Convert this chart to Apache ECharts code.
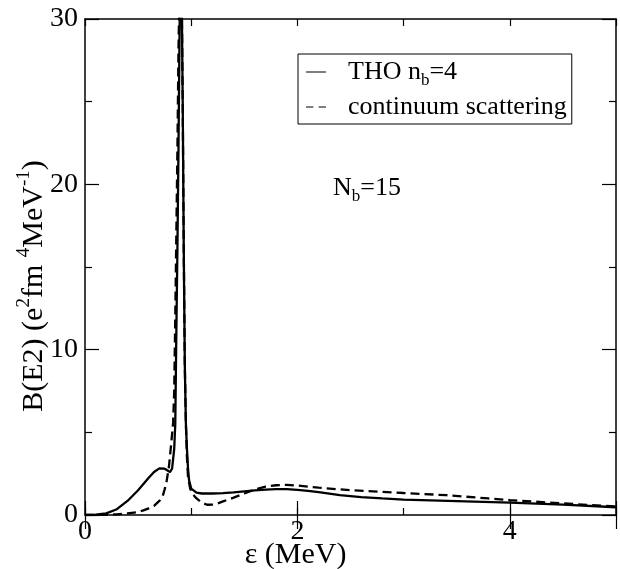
<!DOCTYPE html>
<html>
<head>
<meta charset="utf-8">
<script src="https://cdn.jsdelivr.net/npm/echarts@6/dist/echarts.min.js"></script>
<style>
html,body{margin:0;padding:0;background:#fff;}
#chart{width:620px;height:569px;}
</style>
</head>
<body>
<div id="chart"></div>
<script>
// THO n_b=4 (solid)
const xSolid = [0, 0.1, 0.2, 0.3, 0.4, 0.5, 0.6, 0.65, 0.7, 0.75, 0.8, 0.82, 0.84, 0.85, 0.86, 0.87, 0.88, 0.89, 0.9, 0.91, 0.92, 0.93, 0.94, 0.95, 0.96, 0.97, 0.98, 1.0, 1.05, 1.1, 1.2, 1.3, 1.4, 1.5, 1.6, 1.7, 1.8, 1.9, 2.0, 2.1, 2.2, 2.4, 2.6, 2.8, 3.0, 3.5, 4.0, 4.5, 5.0];
const ySolid = [0, 0.02, 0.1, 0.35, 0.85, 1.5, 2.25, 2.6, 2.82, 2.8, 2.6, 2.8, 4.0, 5.5, 11, 16, 22, 29, 34, 32, 25, 16, 9, 5.5, 4, 2.8, 2.1, 1.6, 1.35, 1.3, 1.3, 1.32, 1.37, 1.43, 1.49, 1.54, 1.57, 1.56, 1.52, 1.46, 1.38, 1.2, 1.08, 1.0, 0.93, 0.84, 0.75, 0.63, 0.47];
// continuum scattering (dashed)
const xDash = [0, 0.1, 0.2, 0.3, 0.4, 0.5, 0.55, 0.6, 0.65, 0.7, 0.73, 0.75, 0.77, 0.79, 0.81, 0.83, 0.84, 0.85, 0.86, 0.87, 0.88, 0.89, 0.9, 0.91, 0.92, 0.93, 0.94, 0.95, 0.96, 0.97, 0.99, 1.01, 1.05, 1.1, 1.15, 1.2, 1.25, 1.3, 1.4, 1.5, 1.6, 1.7, 1.8, 1.9, 2.0, 2.2, 2.5, 2.8, 3.0, 3.4, 3.8, 4.0, 4.5, 5.0];
const yDash = [0, 0, 0.01, 0.04, 0.1, 0.18, 0.28, 0.4, 0.55, 0.85, 1.1, 1.55, 2.1, 2.9, 4.2, 5.6, 7.5, 12, 17, 22, 28, 32, 35, 32, 25, 16, 9, 5.5, 3.5, 2.3, 1.6, 1.3, 1.0, 0.75, 0.62, 0.63, 0.7, 0.82, 1.05, 1.3, 1.55, 1.72, 1.8, 1.82, 1.78, 1.65, 1.5, 1.4, 1.33, 1.2, 1.0, 0.9, 0.7, 0.52];
const xTicks = [0, 2, 4];
const yTicks = [0, 10, 20, 30];

const FONT = 'Liberation Serif';
const pairs = (xs, ys) => xs.map((x, i) => [x, ys[i]]);
const chart = echarts.init(document.getElementById('chart'));

const baseX = {
  type: 'value', min: 0, max: 5, splitLine: {show: false},
  axisLine: {show: true, onZero: false, lineStyle: {color: '#000', width: 1.5}}
};
const option = {
  backgroundColor: '#fff',
  animation: false,
  grid: {left: 85, top: 19, right: 4, bottom: 54, outerBoundsMode: 'none', containLabel: false},
  title: {
    text: 'N{sub|b}=15', left: 328, top: 166,
    textStyle: {fontFamily: FONT, fontSize: 26, fontWeight: 'normal', color: '#000', lineHeight: 34,
      rich: {sub: {fontFamily: FONT, fontSize: 17, verticalAlign: 'bottom', lineHeight: 17, color: '#000'}}}
  },
  legend: {
    left: 298, top: 54, orient: 'vertical',
    borderColor: '#000', borderWidth: 1, borderRadius: 0,
    padding: [1, 5, 0, 8], itemGap: 1,
    itemWidth: 20, itemHeight: 2.4,
    data: [
      {name: 'tho', icon: 'path://M0,0H20V1H0Z'},
      {name: 'cont', icon: 'path://M0,0H7V1H0Z M12,0H19V1H12Z'}
    ],
    formatter: n => n === 'tho' ? 'THO n{sub|b}=4' : 'continuum scattering',
    textStyle: {fontFamily: FONT, fontSize: 26, color: '#000', lineHeight: 34, padding: [0, 0, 0, 17],
      rich: {sub: {fontFamily: FONT, fontSize: 17, verticalAlign: 'bottom', lineHeight: 17, color: '#000'}}}
  },
  xAxis: [
    Object.assign({}, baseX, {
      position: 'bottom', interval: 1,
      axisTick: {show: true, inside: true, length: 7, lineStyle: {color: '#000', width: 1.2}},
      axisLabel: {fontFamily: FONT, fontSize: 28, color: '#000', margin: 3,
        formatter: v => xTicks.includes(v) ? String(v) : ''},
      name: 'ε (MeV)', nameLocation: 'middle', nameGap: 25, nameMoveOverlap: false,
      nameTextStyle: {fontFamily: FONT, fontSize: 30, color: '#000', lineHeight: 30, padding: [0, 110, 0, 0]}
    }),
    Object.assign({}, baseX, {
      position: 'bottom', interval: 2,
      axisLine: {show: false},
      axisTick: {show: true, inside: true, length: 14, lineStyle: {color: '#000', width: 1.2}},
      axisLabel: {show: false}
    }),
    Object.assign({}, baseX, {
      position: 'top', interval: 1,
      axisTick: {show: true, inside: true, length: 7, lineStyle: {color: '#000', width: 1.2}},
      axisLabel: {show: false}
    }),
    Object.assign({}, baseX, {
      position: 'top', interval: 2,
      axisLine: {show: false},
      axisTick: {show: true, inside: true, length: 14, lineStyle: {color: '#000', width: 1.2}},
      axisLabel: {show: false}
    })
  ],
  yAxis: [
    {
      type: 'value', min: 0, max: 30, interval: 10, position: 'left',
      splitLine: {show: false},
      axisLine: {show: true, onZero: false, lineStyle: {color: '#000', width: 1.5}},
      axisTick: {show: true, inside: true, length: 14, lineStyle: {color: '#000', width: 1.2}},
      minorTick: {show: true, splitNumber: 2, length: 7, lineStyle: {color: '#000', width: 1.2}},
      axisLabel: {fontFamily: FONT, fontSize: 28, color: '#000', margin: 7,
        formatter: v => yTicks.includes(v) ? String(v) : ''},
      name: 'B(E2) (e{sup|2}fm {sup|4}MeV{sup|-1})', nameLocation: 'middle', nameGap: 32, nameRotate: 90,
      nameMoveOverlap: false,
      nameTextStyle: {fontFamily: FONT, fontSize: 30, color: '#000', lineHeight: 38, padding: [0, 38, 0, 0],
        rich: {sup: {fontFamily: FONT, fontSize: 19, verticalAlign: 'top', lineHeight: 18, color: '#000'}}}
    },
    {
      type: 'value', min: 0, max: 30, interval: 10, position: 'right',
      splitLine: {show: false},
      axisLine: {show: true, onZero: false, lineStyle: {color: '#000', width: 1.5}},
      axisTick: {show: true, inside: true, length: 14, lineStyle: {color: '#000', width: 1.2}},
      minorTick: {show: true, splitNumber: 2, length: 7, lineStyle: {color: '#000', width: 1.2}},
      axisLabel: {show: false}
    }
  ],
  series: [
    {
      name: 'tho', type: 'line', xAxisIndex: 0, yAxisIndex: 0,
      data: pairs(xSolid, ySolid), showSymbol: false, symbol: 'none',
      lineStyle: {color: '#000', width: 2.3, type: 'solid'}, itemStyle: {color: '#000'}
    },
    {
      name: 'cont', type: 'line', xAxisIndex: 0, yAxisIndex: 0,
      data: pairs(xDash, yDash), showSymbol: false, symbol: 'none',
      lineStyle: {color: '#000', width: 2.3, type: [9, 5]}, itemStyle: {color: '#000'}
    }
  ]
};
chart.setOption(option);
</script>
</body>
</html>
